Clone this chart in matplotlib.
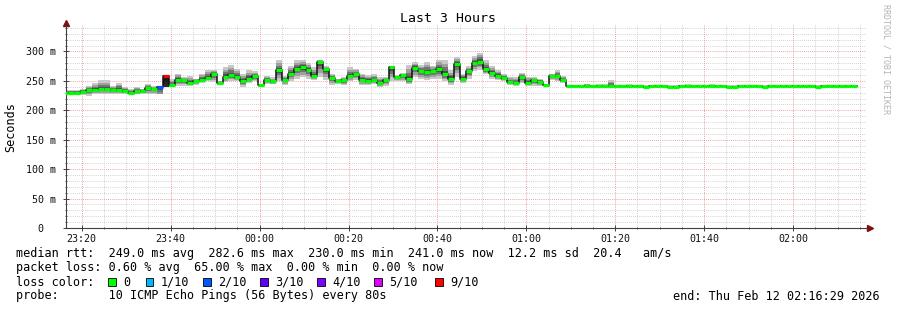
import numpy as np
import matplotlib
matplotlib.use("Agg")
import matplotlib.pyplot as plt
from matplotlib.patches import Rectangle

plt.rcParams['font.family'] = ['DejaVu Sans Mono']

# 80 s steps, x in minutes after 23:00 (plot spans 23:16:29 .. 02:16:29)
t_first = 15 + 40 / 60.
step = 80 / 60.
x_start = 16 + 29 / 60.
x_end = x_start + 180

median = [230, 230, 230, 231, 234, 234, 236, 236, 235, 235,
          232, 230, 232, 232, 238, 236, 239, 259, 242.5, 252,
          251, 247, 249, 252, 255, 261, 247, 257, 260, 256,
          250, 254, 258, 242.5, 252, 249, 268, 252, 262, 270.5,
          273, 269, 259, 282, 269.5, 255, 250, 251, 259, 262,
          252, 250, 251, 246, 251, 273, 256, 260, 252.5, 272,
          266, 265, 266, 269.5, 261.5, 254, 279, 254, 266.5, 281,
          282.6, 269.5, 264, 259, 255, 248, 246, 256.5, 247, 251,
          248, 243, 258, 258, 252] + \
         [241] * 13 + [240] + [241] * 3 + [240, 240] + [241] * 8 + [240, 240] + \
         [241] * 4 + [240] + [241] * 8 + [240] + [241] * 6

smoke_hi = [235, 235, 235, 237, 242, 247, 251, 251, 242, 247,
            240, 237, 240, 237, 244, 241, 241, 260, 253, 262,
            256, 258, 254, 262, 269, 269, 250, 273, 277, 270,
            262, 268, 266, 245, 258, 256, 285, 258, 276, 285,
            286, 280, 273, 286, 276, 262, 254, 256, 273, 270,
            262, 260, 262, 256, 257, 276, 260, 263, 277, 282,
            277, 282, 276, 286, 285, 268, 290, 262, 275, 292,
            298, 285, 275, 268, 262, 257, 257, 263, 257, 256,
            254, 244, 262, 269, 258] + \
           [242.5] * 3 + [245, 242.5, 244, 244, 252, 242.5, 242.5, 244] + \
           [242.5] * 9 + [244] + [242.5] * 3 + [244] + [242.5] * 24

smoke_lo = [227, 227, 227, 226, 225, 227, 228, 228, 228, 228,
            228, 227, 227, 228, 227, 228, 228, 240, 240, 242,
            242, 242, 243, 246, 249, 248, 243, 248, 250, 249,
            240, 246, 249, 240, 244, 244, 250, 243, 250, 254,
            256, 254, 252, 256, 252, 243, 244, 243, 249, 252,
            243, 243, 244, 240, 242, 250, 249, 249, 244, 256,
            254, 252, 254, 254, 249, 243, 257, 246, 254, 267,
            269, 261, 254, 251, 249, 243, 242, 246, 242, 242,
            242, 242, 251, 250, 246] + [239.5] * 49

# packet loss in percent per step
loss = [0] * 134
loss[16] = 20
loss[17] = 65

loss_labels = ['0', '1/10', '2/10', '3/10', '4/10', '5/10', '9/10']
loss_colors = ['#00ff00', '#00b8ff', '#0059ff', '#5e00ff', '#7e00ff', '#dd00ff', '#ff0000']
loss_limits = [0, 10, 20, 30, 40, 50, 100]

hour_labels = ['23:20', '23:40', '00:00', '00:20', '00:40', '01:00', '01:20', '01:40', '02:00']

median = np.array(median, dtype=float)
smoke_hi = np.array(smoke_hi, dtype=float)
smoke_lo = np.array(smoke_lo, dtype=float)
loss = np.array(loss, dtype=float)
n = len(median)
starts = t_first + step * np.arange(n)

W, H = 897, 310
fig = plt.figure(figsize=(W / 100, H / 100), dpi=100)
fig.patch.set_facecolor('white')
ax = fig.add_axes([66.1 / W, (H - 228) / H, 800.3 / W, 203 / H])
ax.set_facecolor('white')
ax.set_xlim(x_start, x_end)
ax.set_ylim(0, 345)

# grid
for v in range(10, 345, 10):
    if v % 50:
        ax.axhline(v, color='#c4c4c4', lw=0.6, ls=(0, (1, 1.5)), zorder=0)
for v in range(50, 345, 50):
    ax.axhline(v, color='#f08080', lw=0.6, ls=(0, (1, 1.5)), zorder=0)
for m in range(20, 200, 5):
    if m % 20:
        ax.axvline(m, color='#c4c4c4', lw=0.6, ls=(0, (1, 1.5)), zorder=0)
for m in range(20, 200, 20):
    ax.axvline(m, color='#f08080', lw=0.6, ls=(0, (1, 1.5)), zorder=0)

# smoke: layers getting darker towards the median
fracs = [1.0, 0.72, 0.48, 0.25]
greys = [200, 160, 115, 75]
dark = (1 - loss / 100.) ** 1.5
for f, g in zip(fracs, greys):
    lo = median - np.clip(median - smoke_lo, 0, None) * f
    hi = median + np.clip(smoke_hi - median, 0, None) * f
    cols = [(g * d / 255.,) * 3 for d in dark]
    ax.bar(starts, hi - lo, bottom=lo, width=step, align='edge',
           color=cols, linewidth=0, zorder=1)

# median: thin dark step line plus thick loss-coloured segments
ax.step(np.append(starts, starts[-1] + step), np.append(median, median[-1]),
        where='post', color='#101010', lw=1.1, zorder=2)
seg_cols = [loss_colors[int(np.searchsorted(loss_limits, l))] for l in loss]
ax.hlines(median, starts, starts + step, colors=seg_cols, lw=2.3,
          capstyle='butt', zorder=3)

# axes look
for s in ['top', 'right']:
    ax.spines[s].set_visible(False)
for s in ['left', 'bottom']:
    ax.spines[s].set_color('#404040')
    ax.spines[s].set_linewidth(0.8)
ax.set_yticks(range(0, 301, 50))
ax.set_yticklabels(['0  '] + ['%d m' % v for v in range(50, 301, 50)])
ax.set_yticks(range(0, 345, 10), minor=True)
ax.set_xticks(range(20, 181, 20))
ax.set_xticklabels(hour_labels)
ax.set_xticks(range(20, 200, 5), minor=True)
ax.tick_params(which='major', direction='inout', length=4, width=0.7,
               color='#404040', labelsize=7.2, labelcolor='#101010')
ax.tick_params(which='minor', direction='inout', length=2, width=0.6, color='#404040')
ax.tick_params(axis='y', pad=5)
ax.tick_params(axis='x', pad=2)

ax.plot(1.004, 0, marker='>', ms=4, color='#7a1010', transform=ax.transAxes, clip_on=False)
ax.plot(0, 1.012, marker='^', ms=4, color='#7a1010', transform=ax.transAxes, clip_on=False)

# texts
fs = 8.5
fig.text(448 / W, 1 - 19 / H, 'Last 3 Hours', ha='center', va='center', fontsize=9.5)
fig.text(11 / W, 1 - 127 / H, 'Seconds', rotation=90, ha='center', va='center', fontsize=fs)
fig.text(886 / W, 1 - 59 / H, 'RRDTOOL / TOBI OETIKER', rotation=270, ha='center',
         va='center', fontsize=6, color='#b4b4b4')

fig.text(16 / W, 1 - 254 / H,
         'median rtt:  249.0 ms avg  282.6 ms max  230.0 ms min  241.0 ms now  12.2 ms sd  20.4   am/s',
         va='center', fontsize=fs)
fig.text(16 / W, 1 - 268 / H,
         'packet loss: 0.60 % avg  65.00 % max  0.00 % min  0.00 % now',
         va='center', fontsize=fs)
fig.text(16 / W, 1 - 282 / H, 'loss color:', va='center', fontsize=fs)
box_x = [108.3, 145.7, 203, 260, 317.3, 374.3, 435.3]
for bx, lab, c in zip(box_x, loss_labels, loss_colors):
    fig.add_artist(Rectangle((bx / W, 1 - 286 / H), 7.5 / W, 8 / H, transform=fig.transFigure,
                             facecolor=c, edgecolor='black', lw=0.6))
    fig.text((bx + 15) / W, 1 - 282 / H, lab, va='center', fontsize=fs)
fig.text(16 / W, 1 - 296 / H, 'probe:       10 ICMP Echo Pings (56 Bytes) every 80s',
         va='center', fontsize=fs)
fig.text(880 / W, 1 - 296 / H, 'end: Thu Feb 12 02:16:29 2026', ha='right',
         va='center', fontsize=fs)

fig.savefig('out.png', dpi=100, facecolor='white')
